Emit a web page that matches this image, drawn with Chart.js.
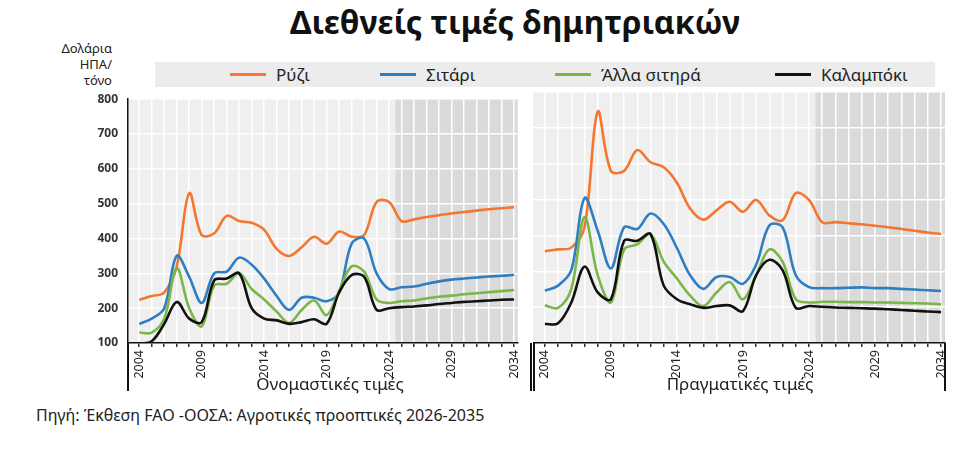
<!DOCTYPE html>
<html><head><meta charset="utf-8">
<script src="https://cdn.jsdelivr.net/npm/chart.js@4"></script>
<style>
body{margin:0;width:960px;height:466px;background:#fff;font-family:"Noto Sans",sans-serif;position:relative;overflow:hidden}
.abs{position:absolute}
#title{left:0;width:1030px;top:0px;text-align:center;font-size:32px;font-weight:bold;color:#111}
#ylab{left:40px;width:72px;top:40px;text-align:right;font-size:13px;line-height:16px;color:#222}
#legend{left:155px;top:62px;width:780px;height:25px;background:#ececec;font-size:17px;color:#222}
.li{position:absolute;top:1px;display:flex;align-items:center;gap:10px}
.sw{width:36px;height:3px}
.ax{font-size:17px;color:#222;text-align:center}
.vl{width:1.5px;background:#111}
</style></head><body>
<div id="title" class="abs">Διεθνείς τιμές δημητριακών</div>
<div id="ylab" class="abs">Δολάρια<br>ΗΠΑ/<br>τόνο</div>
<div id="legend" class="abs">
 <div class="li" style="left:75px"><span class="sw" style="background:#f4762f"></span>Ρύζι</div>
 <div class="li" style="left:225px"><span class="sw" style="background:#2f7ec1"></span>Σιτάρι</div>
 <div class="li" style="left:400px"><span class="sw" style="background:#7ab648"></span>Άλλα σιτηρά</div>
 <div class="li" style="left:620px"><span class="sw" style="background:#111"></span>Καλαμπόκι</div>
</div>
<div class="abs" style="left:60px;top:82px;width:472px;height:318px"><canvas id="c1"></canvas></div>
<div class="abs" style="left:533px;top:82px;width:426px;height:318px"><canvas id="c2"></canvas></div>
<div class="abs vl" style="left:127px;top:343px;height:48px"></div>
<div class="abs vl" style="left:530px;top:343px;height:48px"></div>
<div class="abs vl" style="left:533px;top:343px;height:48px"></div>
<div class="abs vl" style="left:944px;top:343px;height:48px"></div>
<div class="abs ax" style="left:130px;width:400px;top:372px">Ονομαστικές τιμές</div>
<div class="abs ax" style="left:535px;width:410px;top:372px">Πραγματικές τιμές</div>
<div class="abs" style="left:36px;top:404px;font-size:16px;color:#222">Πηγή: Έκθεση FAO -ΟΟΣΑ: Αγροτικές προοπτικές 2026-2035</div>
<script>
const years=[];for(let y=2004;y<=2034;y++)years.push(y);
const riceNominal=[224,235,245,320,530,410,415,465,450,445,425,370,350,375,405,385,420,405,410,505,505,450,455,462,467,472,476,480,484,487,490];
const wheatNominal=[155,170,200,350,290,215,300,305,345,325,285,235,195,230,230,220,245,385,400,300,255,260,262,270,277,282,285,288,291,293,296];
const otherNominal=[130,130,170,315,200,148,265,270,300,255,225,190,158,195,222,180,250,320,305,225,215,220,222,228,233,236,240,243,246,249,252];
const maizeNominal=[98,105,155,218,170,160,280,285,300,200,170,165,155,160,168,155,245,295,290,195,200,203,205,208,212,215,218,220,222,224,225];
const riceReal=[356,361,366,423,745,580,580,638,604,590,547,475,444,470,494,466,499,456,442,518,499,437,437,434,431,427,423,418,413,408,404];
const wheatReal=[246,260,303,504,413,308,423,418,461,432,365,289,251,284,284,265,318,428,423,289,256,253,253,254,255,253,253,251,249,247,245];
const otherReal=[205,198,251,451,289,213,361,375,404,327,280,232,203,241,270,222,289,361,327,222,213,215,215,214,214,213,213,212,211,210,208];
const maizeReal=[153,155,213,313,241,222,385,385,404,260,222,208,198,203,205,189,289,332,303,198,203,201,199,198,197,196,194,192,190,188,186];
const yTicks=[100,200,300,400,500,600,700,800];
const forecastStart=2024.5;
const colors=['#f4762f','#2f7ec1','#7ab648','#111111'];
const bg={id:'bg',beforeDraw(c){const a=c.chartArea,x=c.scales.x,ctx=c.ctx;ctx.save();ctx.fillStyle='#efefef';ctx.fillRect(a.left,a.top,a.width,a.height);const fx=x.getPixelForValue(forecastStart);ctx.fillStyle='#dadada';ctx.fillRect(fx,a.top,a.right-fx,a.height);ctx.restore();}};
function make(id,series,showY){
 const ds=series.map((s,i)=>({data:years.map((y,j)=>({x:y,y:s[j]})),borderColor:colors[i],borderWidth:2.6,pointRadius:0,tension:0.35,fill:false})).reverse();
 new Chart(document.getElementById(id),{type:'line',data:{datasets:ds},plugins:[bg],
 options:{animation:false,responsive:true,maintainAspectRatio:false,layout:{padding:{top:10,right:0,left:0,bottom:0}},
 plugins:{legend:{display:false},tooltip:{enabled:false}},
 scales:{
  x:{type:'linear',min:2003.1,max:2034.3,afterFit(s){s.height=57},afterBuildTicks(s){s.ticks=years.map(v=>({value:v}))},
   grid:{color:'#ffffff',lineWidth:1.5,drawTicks:true,tickColor:'#333',tickLength:4},border:{color:'#111',width:1.5},
   ticks:{autoSkip:false,minRotation:90,maxRotation:90,font:{size:12.5,family:'Noto Sans'},color:'#222',callback:v=>((v-2004)%5===0?String(v):'')}},
  y:{display:true,min:100,max:800,afterFit(s){s.width=showY?68:0},afterBuildTicks(s){s.ticks=yTicks.map(v=>({value:v}))},
   grid:{color:'#ffffff',lineWidth:1.5,drawTicks:false},border:{display:showY,color:'#111',width:1.5},
   ticks:{display:showY,padding:10,font:{size:12,weight:'bold',family:'Noto Sans'},color:'#333'}}
 }}});
}
make('c1',[riceNominal,wheatNominal,otherNominal,maizeNominal],true);
make('c2',[riceReal,wheatReal,otherReal,maizeReal],false);
</script></body></html>
